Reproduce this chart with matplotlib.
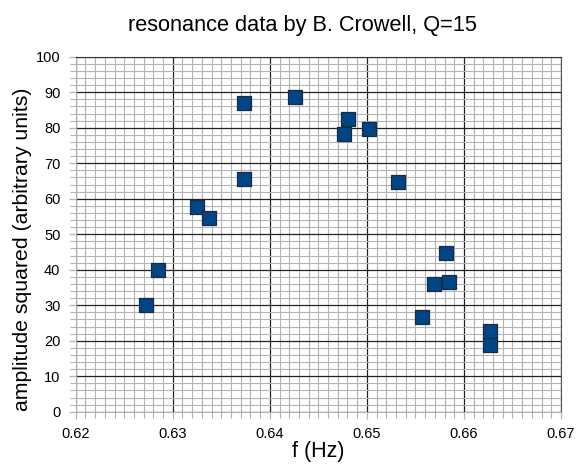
import matplotlib

matplotlib.use("Agg")

import matplotlib.pyplot as plt
from matplotlib.ticker import FormatStrFormatter, MultipleLocator

plt.rcParams["font.family"] = ["Liberation Sans", "DejaVu Sans"]

# frequency (Hz) and amplitude squared
freq = [0.6272, 0.6285, 0.6325, 0.6337, 0.6373, 0.6373, 0.6426, 0.6481, 0.6476,
        0.6502, 0.6532, 0.6582, 0.6569, 0.6585, 0.6557, 0.6627, 0.6627]
amp2 = [30.0, 40.0, 57.7, 54.6, 86.9, 65.5, 88.6, 82.4, 78.1,
        79.5, 64.7, 44.6, 36.0, 36.6, 26.6, 22.6, 18.7]

fig = plt.figure(figsize=(5.77, 4.66), dpi=100)
ax = fig.add_axes([0.1312, 0.1165, 0.8411, 0.7618])

ax.scatter(freq, amp2, marker="s", s=95, color="#004586", edgecolor="#1a2a40",
           linewidth=0.9, zorder=3)

ax.set_xlim(0.62, 0.67)
ax.set_ylim(0, 100)
ax.xaxis.set_major_locator(MultipleLocator(0.01))
ax.xaxis.set_minor_locator(MultipleLocator(0.001))
ax.yaxis.set_major_locator(MultipleLocator(10))
ax.yaxis.set_minor_locator(MultipleLocator(2))
ax.xaxis.set_major_formatter(FormatStrFormatter("%.2f"))
ax.yaxis.set_major_formatter(FormatStrFormatter("%d"))

ax.grid(which="minor", color="#b3b3b3", linewidth=0.8, zorder=1)
ax.grid(which="major", color="#222222", linewidth=0.9, zorder=2)
ax.set_axisbelow(True)

ax.tick_params(which="both", direction="out", color="#b3b3b3", labelsize=10.5)
ax.tick_params(which="major", length=5, width=0.9, pad=6)
ax.tick_params(which="minor", length=4, width=0.8)
for side in ["left", "bottom", "right", "top"]:
    ax.spines[side].set_color("#b3b3b3")
ax.spines["right"].set_color("#555555")
ax.spines["top"].set_color("#333333")

fig.text(0.525, 1 - 31 / 466, "resonance data by B. Crowell, Q=15", fontsize=15.7,
         ha="center", va="baseline")
ax.set_xlabel("f (Hz)", fontsize=15.5, labelpad=0)
fig.text(23 / 577, 1 - 249 / 466, "amplitude squared (arbitrary units)", fontsize=15.3,
         rotation=90, ha="center", va="center")

fig.savefig("out.png", dpi=100)
